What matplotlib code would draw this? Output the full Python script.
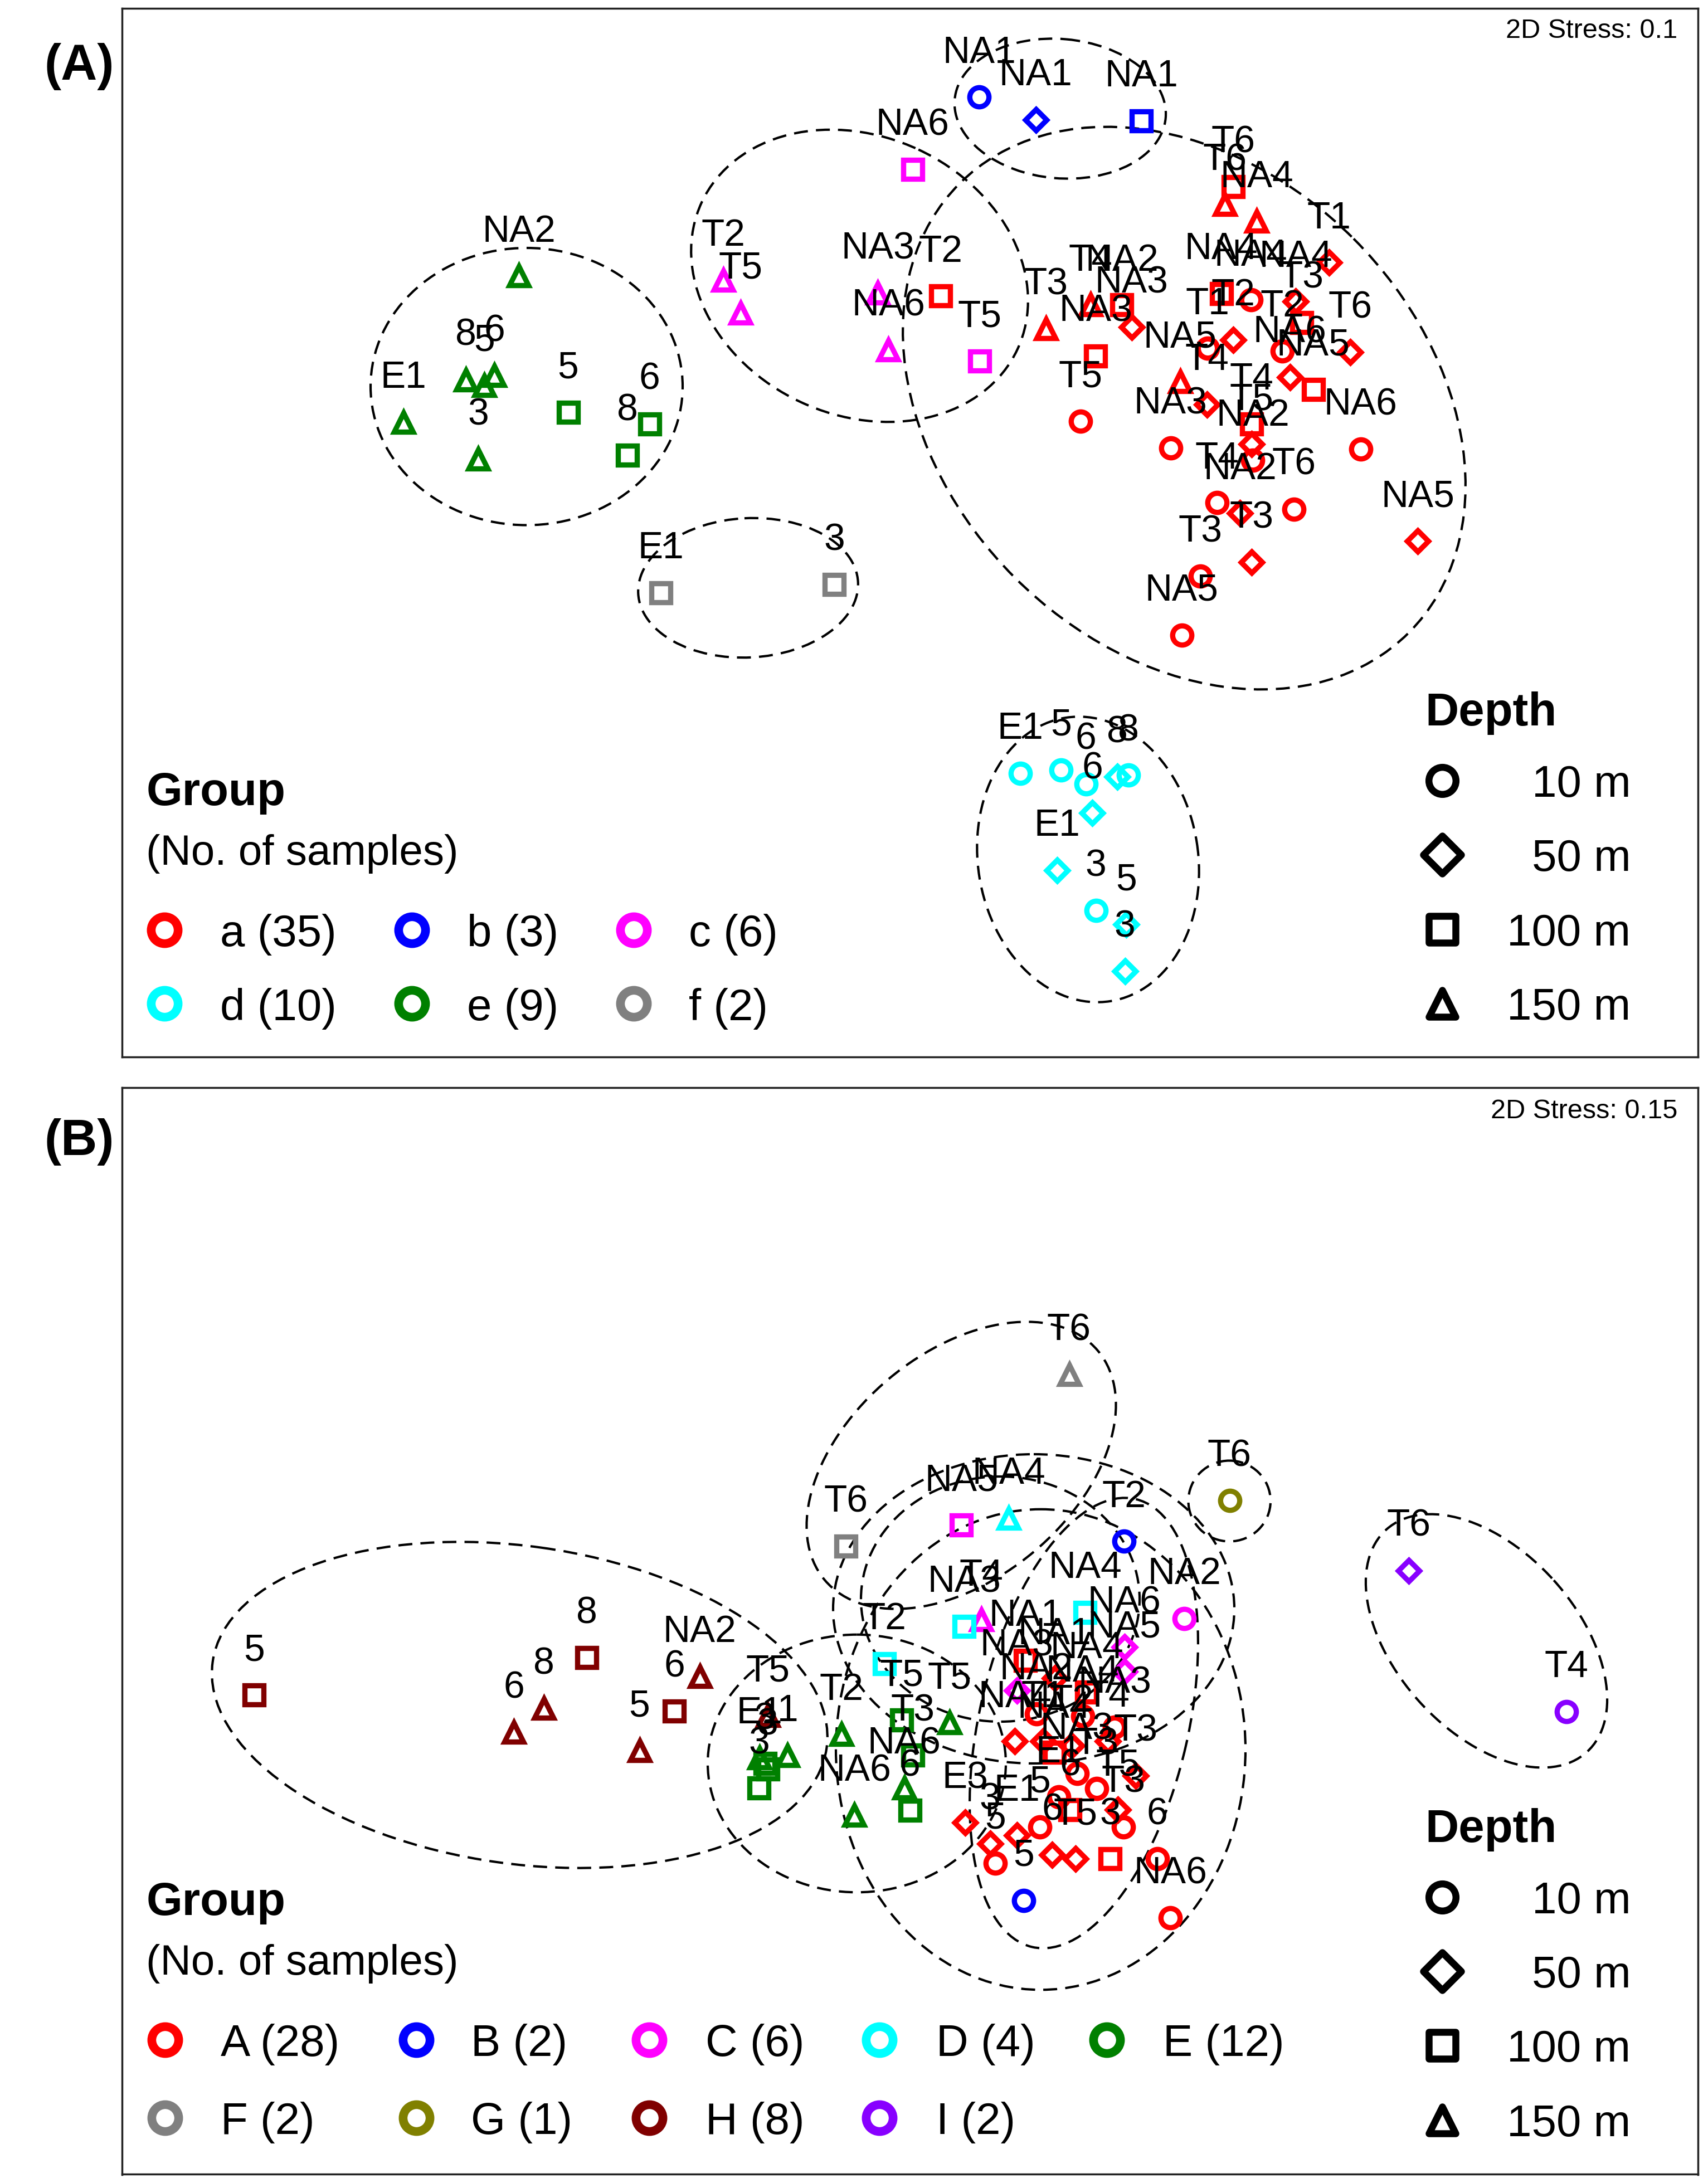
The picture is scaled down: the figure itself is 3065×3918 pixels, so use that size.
import numpy as np
import matplotlib
matplotlib.use("Agg")
import matplotlib.pyplot as plt
from matplotlib.patches import Ellipse
from matplotlib.markers import MarkerStyle

plt.rcParams['font.family'] = ['Liberation Sans', 'DejaVu Sans']

# ---------------- Panel A (2D Stress 0.1) ----------------
A_groups = ['a', 'b', 'c', 'd', 'e', 'f']
A_counts = [35, 3, 6, 10, 9, 2]
A_colors = ['#FF0000', '#0000FF', '#FF00FF', '#00FFFF', '#008000', '#808080']

A_grp = (['a'] * 35 + ['b'] * 3 + ['c'] * 6 + ['d'] * 10 + ['e'] * 9 + ['f'] * 2)
A_x = [885.2, 879.0, 902.0, 954.0, 876.7, 897.8, 930.0, 934.3, 885.2, 866.9,
       920.2, 969.3, 925.9, 942.7, 847.0, 866.5, 898.2, 898.2, 899.2, 840.3,
       976.6, 775.7, 750.8, 782.7, 805.2, 812.2, 786.5, 675.2, 861.4, 898.2,
       848.2, 1017.6, 873.7, 890.0, 928.8,
       702.8, 743.5, 819.2,
       519.3, 531.5, 655.1, 630.0, 637.6, 703.0,
       732.5, 761.6, 779.5, 802.0, 810.1, 784.1, 758.8, 786.7, 808.3, 807.5,
       372.4, 289.5, 334.2, 347.5, 354.8, 343.2, 407.8, 450.3, 466.2,
       474.5, 598.8]
A_y = [134.0, 147.0, 159.0, 188.6, 210.9, 215.4, 216.3, 231.5, 244.0, 250.2,
       252.0, 252.9, 270.7, 279.7, 274.0, 290.5, 304.3, 318.8, 330.3, 321.6,
       322.6, 302.4, 236.0, 219.0, 219.0, 235.0, 255.5, 212.6, 413.8, 403.8,
       455.9, 388.5, 361.0, 368.6, 365.5,
       69.8, 86.0, 86.8,
       201.2, 224.7, 121.6, 210.4, 251.2, 259.4,
       555.3, 552.7, 562.7, 557.6, 556.6, 583.8, 624.7, 653.8, 663.7, 697.4,
       198.2, 303.3, 272.7, 276.7, 269.6, 329.8, 296.1, 326.7, 304.3,
       425.7, 419.6]
A_depth = [100, 150, 150, 50, 100, 10, 50, 100, 50, 10,
           10, 50, 50, 100, 150, 50, 100, 50, 10, 10,
           10, 10, 150, 150, 100, 50, 100, 100, 10, 50,
           10, 50, 10, 50, 10,
           10, 50, 100,
           150, 150, 100, 150, 150, 100,
           10, 10, 10, 50, 10, 50, 50, 10, 50, 50,
           150, 150, 150, 150, 150, 150, 100, 100, 100,
           100, 100]
A_lab = ['T6', 'T6', 'NA4', 'T1', 'NA4', 'NA4', 'NA4', 'T3', 'T2', 'T1',
         'T2', 'T6', 'NA6', 'NA5', 'NA5', 'T4', 'T4', 'T5', 'NA2', 'NA3',
         'NA6', 'T5', 'T3', 'T4', 'NA2', 'NA3', 'NA3', 'T2', 'T3', 'T3',
         'NA5', 'NA5', 'T4', 'NA2', 'T6',
         'NA1', 'NA1', 'NA1',
         'T2', 'T5', 'NA6', 'NA3', 'NA6', 'T5',
         'E1', '5', '6', '8', '8', '6', 'E1', '3', '5', '3',
         'NA2', 'E1', '8', '5', '6', '3', '5', '8', '6',
         'E1', '3']
# group outlines (centre x, centre y, width, height, angle)
A_ell_cx = [850, 761, 617, 781, 378, 537]
A_ell_cy = [293, 78, 198, 617, 277.5, 422]
A_ell_w = [456, 152, 250, 206, 224, 158]
A_ell_h = [344, 100, 200, 158, 199, 100]
A_ell_ang = [45, 5, 25, 81, 0, -3]

# ---------------- Panel B (2D Stress 0.15) ----------------
B_groups = ['A', 'B', 'C', 'D', 'E', 'F', 'G', 'H', 'I']
B_counts = [28, 2, 6, 4, 12, 2, 1, 8, 2]
B_colors = ['#FF0000', '#0000FF', '#FF00FF', '#00FFFF', '#008000',
            '#808080', '#808000', '#800000', '#8800FF']

B_grp = (['A'] * 28 + ['B'] * 2 + ['C'] * 6 + ['D'] * 4 + ['E'] * 12 +
         ['F'] * 2 + ['G'] * 1 + ['H'] * 8 + ['I'] * 2)
B_x = [736.1, 743.8, 728.5, 748.9, 756.6, 769.3, 773.1, 787.2, 815.3, 768.0,
       802.5, 806.3, 692.8, 729.8, 746.4, 710.6, 714.5, 755.3, 771.9, 796.8,
       830.6, 840.0, 757.0, 777.0, 795.0, 760.0, 780.0, 800.0,
       806.7, 734.9,
       690.0, 704.2, 850.0, 807.0, 807.0, 729.8,
       724.0, 778.8, 634.7, 692.1,
       604.1, 613.3, 647.0, 681.6, 655.0, 649.0, 653.0, 545.0, 549.0, 565.3,
       544.9, 551.0,
       767.4, 607.0,
       882.6,
       182.3, 368.9, 390.2, 421.0, 459.0, 484.0, 502.2, 551.0,
       1011.2, 1124.5]
B_y = [1192.0, 1230.3, 1250.2, 1250.2, 1257.9, 1253.3, 1273.2, 1284.0, 1274.7, 1299.2,
       1299.2, 1311.5, 1308.4, 1317.6, 1311.5, 1323.7, 1337.5, 1331.4, 1334.4, 1334.4,
       1334.4, 1377.0, 1205.0, 1232.0, 1250.0, 1290.0, 1215.0, 1240.0,
       1106.6, 1364.3,
       1095.0, 1163.0, 1162.0, 1182.5, 1200.0, 1213.5,
       1090.0, 1157.5, 1194.3, 1167.6,
       1245.2, 1303.3, 1235.0, 1237.0, 1260.0, 1283.6, 1299.7, 1262.0, 1266.0, 1260.4,
       1283.6, 1270.0,
       987.0, 1110.0,
       1077.2,
       1216.8, 1243.6, 1226.6, 1190.0, 1257.0, 1228.4, 1203.4, 1231.8,
       1127.5, 1228.7]
B_depth = [100, 10, 50, 50, 100, 50, 10, 10, 50, 100,
           50, 10, 50, 50, 10, 50, 10, 50, 50, 100,
           10, 10, 50, 10, 50, 10, 100, 10,
           10, 10,
           100, 150, 10, 50, 50, 50,
           150, 100, 100, 100,
           150, 150, 100, 150, 100, 150, 100, 150, 100, 150,
           100, 100,
           150, 100,
           10,
           100, 150, 150, 100, 150, 100, 150, 150,
           50, 10]
B_lab = ['NA1', 'NA2', 'NA4', 'T1', 'NA4', 'T2', 'NA3', 'T3', 'T3', '6',
         'T5', 'T3', 'E3', 'E1', '5', '3', '5', '6', 'T5', '3',
         '6', 'NA6', 'NA1', 'NA4', 'T4', 'E1', 'NA4', 'NA3',
         'T2', '5',
         'NA5', 'T4', 'NA2', 'NA6', 'NA5', 'NA3',
         'NA4', 'NA4', 'T2', 'NA3',
         'T2', 'NA6', 'T5', 'T5', 'T3', 'NA6', '6', 'E1', '3', '1',
         '3', '3',
         'T6', 'T6',
         'T6',
         '5', '6', '8', '8', '5', '6', 'NA2', 'T5',
         'T6', 'T4']
B_ell_cx = [747, 778, 742, 718, 615, 690, 882.5, 373, 1067]
B_ell_cy = [1256, 1237, 1155, 1148, 1266, 1052, 1077.6, 1224, 1178]
B_ell_w = [294, 330, 288, 200, 214, 256, 59, 445, 215]
B_ell_h = [345, 150, 222, 176, 185, 162, 58, 228, 130]
B_ell_ang = [0, 103, 0, 0, 0, -40, 0, 8, 48]

DEPTHS = [10, 50, 100, 150]
DEPTH_LABELS = ['10 m', '50 m', '100 m', '150 m']
MARKERS = {10: 'o', 50: 'D', 100: 's', 150: '^'}
DATA_MS = {10: 9.9, 50: 7.8, 100: 10.0, 150: 9.6}
LEG_MS = {10: 14.0, 50: 14.0, 100: 14.0, 150: 14.0}

# ---------------- figure ----------------
UW, UH = 1226.0, 1567.2
fig = plt.figure(figsize=(3065 / 250, 3918 / 250), dpi=250)


def make_axes(x0, x1, y0, y1):
    ax = fig.add_axes([x0 / UW, 1 - y1 / UH, (x1 - x0) / UW, (y1 - y0) / UH])
    ax.set_xlim(x0, x1)
    ax.set_ylim(y1, y0)
    ax.set_xticks([])
    ax.set_yticks([])
    for s in ax.spines.values():
        s.set_linewidth(1.0)
        s.set_color('#222222')
    return ax


def draw_points(ax, groups, colors, grp, xs, ys, dep, lab,
                ecx, ecy, ew, eh, ea):
    for cx, cy, w, h, a in zip(ecx, ecy, ew, eh, ea):
        ax.add_patch(Ellipse((cx, cy), w, h, angle=a, fill=False,
                             ec='black', lw=1.2, ls=(0, (6, 3.5)), zorder=1))
    gx = np.array(xs); gy = np.array(ys)
    gg = np.array(grp); gd = np.array(dep)
    for g, c in zip(groups, colors):
        for d in DEPTHS:
            m = (gg == g) & (gd == d)
            if m.any():
                ax.plot(gx[m], gy[m], ls='none', marker=MARKERS[d],
                        ms=DATA_MS[d], mfc='none', mec=c, mew=2.7, zorder=2)
    for x, y, t in zip(xs, ys, lab):
        ax.annotate(t, (x, y), xytext=(0, 17.8), textcoords='offset points',
                    ha='center', va='baseline', fontsize=19.5, zorder=3)


def depth_legend(ax, top):
    ax.text(1022.9, top, 'Depth', fontsize=24, fontweight='bold',
            ha='left', va='baseline')
    for i, (d, t) in enumerate(zip(DEPTHS, DEPTH_LABELS)):
        yy = top + 39.7 + i * 53.3
        ax.plot([1035], [yy], ls='none',
                marker=MarkerStyle(MARKERS[d], joinstyle='round'),
                ms=LEG_MS[d], mfc='none', mec='black', mew=3.6)
        ax.text(1170.6, yy, t, fontsize=23, ha='right', va='center_baseline')


def group_legend(ax, top, groups, counts, colors, colx, textx, rows):
    ax.text(104.9, top, 'Group', fontsize=24, fontweight='bold',
            ha='left', va='baseline')
    ax.text(104.9, top + 31.4, '(No. of samples)', fontsize=22,
            ha='left', va='center_baseline')
    ncol = len(colx)
    for i, (g, n, c) in enumerate(zip(groups, counts, colors)):
        r, k = divmod(i, ncol)
        yy = rows[r]
        ax.plot([colx[k]], [yy], ls='none', marker='o', ms=13.9,
                mfc='none', mec=c, mew=4.5)
        ax.text(textx[k], yy, f'{g} ({n})', fontsize=23, ha='left',
                va='center_baseline')


# Panel A
axA = make_axes(87.5, 1218.8, 6.0, 758.7)
draw_points(axA, A_groups, A_colors, A_grp, A_x, A_y, A_depth, A_lab,
            A_ell_cx, A_ell_cy, A_ell_w, A_ell_h, A_ell_ang)
axA.text(1204, 22, '2D Stress: 0.1', fontsize=14, ha='right', va='center')
depth_legend(axA, 520.7)
group_legend(axA, 578.2, A_groups, A_counts, A_colors,
             [118.1, 295.5, 454.7], [157.9, 335.3, 494.5], [667.7, 720.6])

# Panel B
axB = make_axes(87.5, 1218.8, 781.0, 1561.0)
draw_points(axB, B_groups, B_colors, B_grp, B_x, B_y, B_depth, B_lab,
            B_ell_cx, B_ell_cy, B_ell_w, B_ell_h, B_ell_ang)
axB.text(1204, 798, '2D Stress: 0.15', fontsize=14, ha='right', va='center')
depth_legend(axB, 1322.3)
group_legend(axB, 1375.0, B_groups, B_counts, B_colors,
             [118.2, 298.9, 466.1, 631.1, 794.4],
             [158.6, 338.0, 506.5, 672.0, 834.8], [1464.6, 1520.5])

fig.text(57 / UW, 1 - 48 / UH, '(A)', fontsize=26, fontweight='bold',
         ha='center', va='center')
fig.text(57 / UW, 1 - 820 / UH, '(B)', fontsize=26, fontweight='bold',
         ha='center', va='center')

fig.savefig('out.png', dpi=250, facecolor='white')
